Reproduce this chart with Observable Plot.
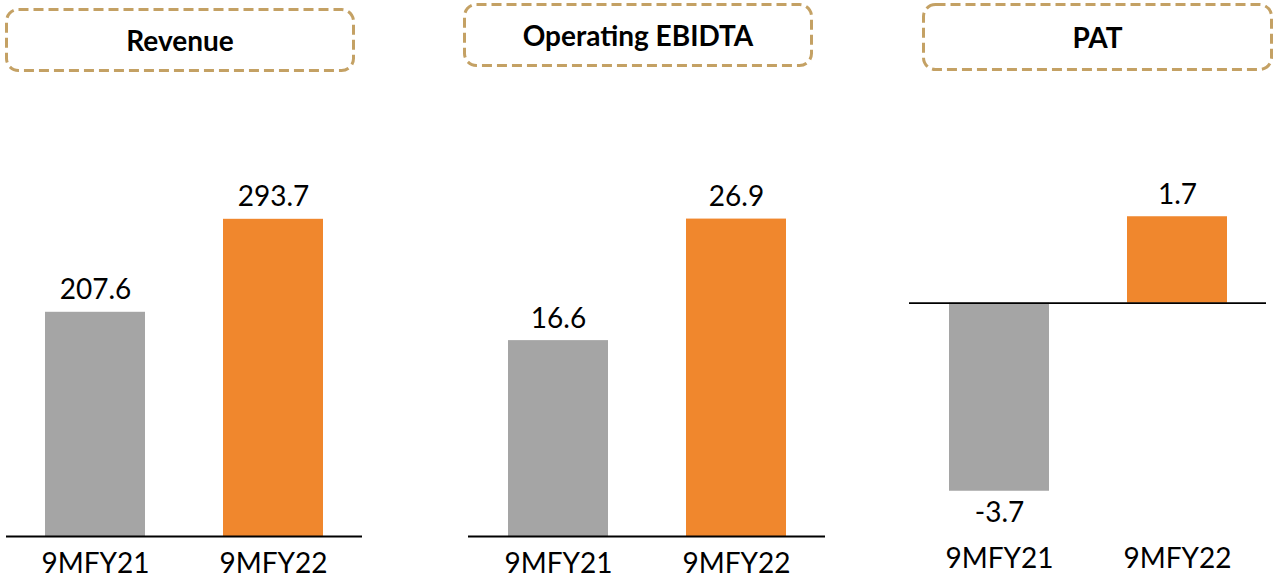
<!DOCTYPE html>
<html>
<head>
<meta charset="utf-8">
<script src="https://cdn.jsdelivr.net/npm/d3@7"></script>
<script src="https://cdn.jsdelivr.net/npm/@observablehq/plot@0.6"></script>
<style>
  html, body { margin: 0; padding: 0; background: #fff; }
  #root { position: relative; width: 1279px; height: 581px; overflow: hidden; font-family: Lato, "Open Sans", sans-serif; }
  .panel { position: absolute; top: 0; }
  .title { position: absolute; display: flex; align-items: center; justify-content: center; font-weight: bold; font-size: 28px; color: #000; }
  .title svg { position: absolute; left: 0; top: 0; overflow: visible; }
  .title span { position: relative; }
</style>
</head>
<body>
<div id="root"></div>
<script>
const categories = ["9MFY21", "9MFY22"];
const revenue = [207.6, 293.7];
const ebitda = [16.6, 26.9];
const pat = [-3.7, 1.7];
const titles = ["Revenue", "Operating EBIDTA", "PAT"];
const barColors = ["#A5A5A5", "#F0872D"];

const root = document.getElementById("root");

function titleBox(text, left, top, w, h) {
  const div = document.createElement("div");
  div.className = "title";
  div.style.left = left + "px";
  div.style.top = top + "px";
  div.style.width = w + "px";
  div.style.height = h + "px";
  const ns = "http://www.w3.org/2000/svg";
  const svg = document.createElementNS(ns, "svg");
  svg.setAttribute("width", w);
  svg.setAttribute("height", h);
  const rect = document.createElementNS(ns, "rect");
  rect.setAttribute("x", 1.5);
  rect.setAttribute("y", 1.5);
  rect.setAttribute("width", w - 3);
  rect.setAttribute("height", h - 3);
  rect.setAttribute("rx", 12);
  rect.setAttribute("fill", "none");
  rect.setAttribute("stroke", "#C4A164");
  rect.setAttribute("stroke-width", 3);
  rect.setAttribute("stroke-dasharray", "10 5");
  svg.appendChild(rect);
  div.appendChild(svg);
  const span = document.createElement("span");
  span.textContent = text;
  div.appendChild(span);
  root.appendChild(div);
}

function panel(values, opts) {
  const data = categories.map((c, i) => ({category: c, value: values[i]}));
  const svg = Plot.plot({
    width: opts.width,
    height: 581,
    marginLeft: opts.mL,
    marginRight: opts.mR,
    marginTop: opts.mT,
    marginBottom: opts.mB,
    x: {domain: categories, paddingInner: 0.44, paddingOuter: 0.22, label: null},
    y: {domain: opts.domain, axis: null},
    color: {domain: categories, range: barColors},
    style: {fontFamily: "Lato, 'Open Sans', sans-serif", fontSize: "28px", color: "#000", background: "transparent", overflow: "visible"},
    marks: [
      Plot.barY(data, {x: "category", y: "value", fill: "category"}),
      Plot.ruleY([0], {stroke: "#000", strokeWidth: 1.8}),
      Plot.text(data.filter(d => d.value >= 0), {x: "category", y: "value", text: d => d.value.toFixed(1), dy: -22, fontSize: 28, fill: "#000"}),
      Plot.text(data.filter(d => d.value < 0), {x: "category", y: "value", text: d => d.value.toFixed(1), dy: 22, fontSize: 28, fill: "#000"}),
      Plot.axisX({tickSize: 0, tickPadding: opts.tickPadding, fontSize: 28, fill: "#000", label: null})
    ]
  });
  const wrap = document.createElement("div");
  wrap.className = "panel";
  wrap.style.left = opts.left + "px";
  wrap.appendChild(svg);
  root.appendChild(wrap);
}

panel(revenue, {left: 0, width: 370, mL: 6, mR: 8, mT: 212, mB: 45, domain: [0, 300], tickPadding: 17});
panel(ebitda, {left: 460, width: 375, mL: 8, mR: 10, mT: 182, mB: 45, domain: [0, 30], tickPadding: 17});
panel(pat, {left: 900, width: 379, mL: 9, mR: 13, mT: 201, mB: 75, domain: [-4, 2], tickPadding: 42});

titleBox(titles[0], 5, 8, 350, 64);
titleBox(titles[1], 463, 3, 350, 64);
titleBox(titles[2], 922, 3, 351, 68);
</script>
</body>
</html>
